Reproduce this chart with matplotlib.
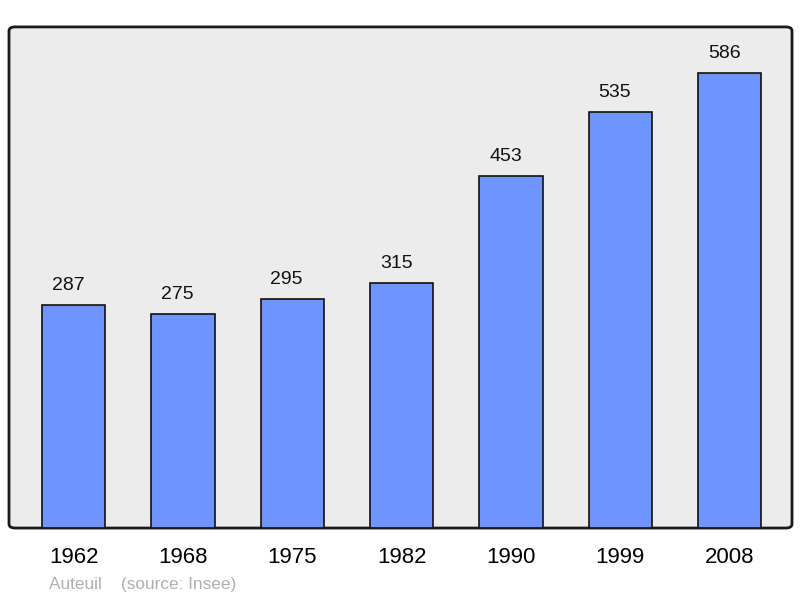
import matplotlib.pyplot as plt
from matplotlib.patches import FancyBboxPatch

years = ["1962", "1968", "1975", "1982", "1990", "1999", "2008"]
population = [287, 275, 295, 315, 453, 535, 586]
source_text = "Auteuil    (source: Insee)"

plt.rcParams['font.family'] = ['Liberation Sans', 'DejaVu Sans']

fig = plt.figure(figsize=(8, 5.98), dpi=100)
ax = fig.add_axes([0.01125, 0.117, 0.97875, 0.838])
ax.set_facecolor('none')

# rounded grey frame behind the bars
frame = FancyBboxPatch((0, 0), 1, 1, boxstyle="round,pad=0,rounding_size=0.008",
                       transform=ax.transAxes, facecolor='#ececec',
                       edgecolor='#1a1a1a', linewidth=2, zorder=0, clip_on=False)
ax.add_patch(frame)

x = range(len(years))
bars = ax.bar(x, population, width=0.58, color='#7094ff',
              edgecolor='#111111', linewidth=1.2, zorder=2)
for xi, v in zip(x, population):
    # labels sit slightly left of the bar centre in the original
    ax.annotate(str(v), (xi, v), xytext=(-4, 8), textcoords='offset points',
                ha='center', va='bottom', fontsize=14, color='#111111')

ax.set_xlim(-0.59, 6.57)
ax.set_ylim(0, 645)
ax.set_xticks(list(x))
ax.set_xticklabels(years, fontsize=16)
ax.tick_params(axis='x', length=0, pad=14)
ax.set_yticks([])
for s in ax.spines.values():
    s.set_visible(False)

fig.text(49 / 800, 1 - 584 / 598, source_text, fontsize=12.4, color='#b0b0b0',
         ha='left', va='center')

fig.savefig('out.png', dpi=100)
